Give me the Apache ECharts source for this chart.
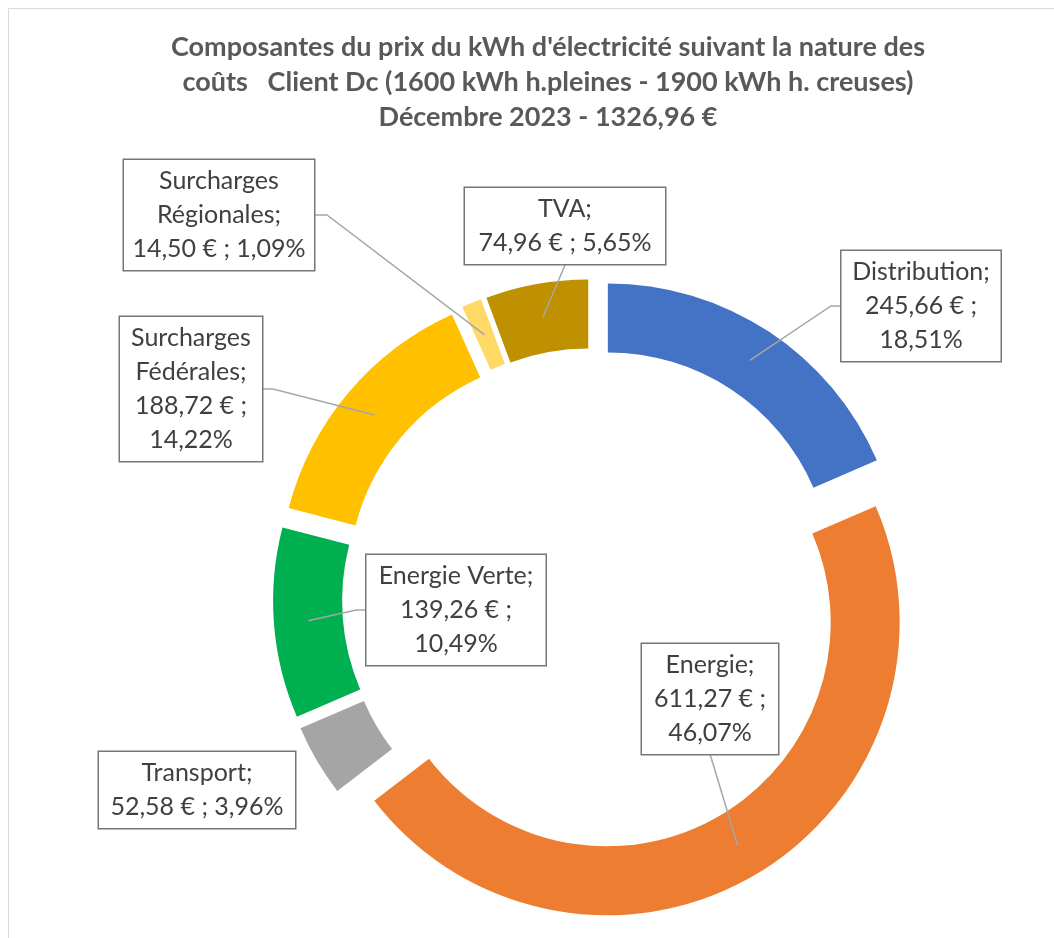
<!DOCTYPE html>
<html>
<head>
<meta charset="utf-8">
<script src="https://cdn.jsdelivr.net/npm/echarts@6/dist/echarts.min.js"></script>
<style>
  html, body { margin: 0; padding: 0; background: #fff; }
  #chart { width: 1054px; height: 938px; }
</style>
</head>
<body>
<div id="chart"></div>
<script>
// données (décembre 2023)
const categories = ['Distribution', 'Energie', 'Transport', 'Energie Verte',
  'Surcharges Fédérales', 'Surcharges Régionales', 'TVA'];
const values = [245.66, 611.27, 52.58, 139.26, 188.72, 14.50, 74.96];
const colors = ['#4472C4', '#ED7D31', '#A5A5A5', '#00B050', '#FFC000', '#FFD966', '#BF9000'];
const titleLines = [
  "Composantes du prix du kWh d'électricité suivant la nature des",
  'coûts   Client Dc (1600 kWh h.pleines - 1900 kWh h. creuses)',
  'Décembre 2023 - 1326,96 €'
];

// géométrie de l'anneau
const CX = 593, CY = 599, R_IN = 224, R_OUT = 293, EXPLODE = 27;

// position des étiquettes (centre de la boîte, largeur, retours à la ligne, ligne de rappel)
const labelBoxes = [
  { x: 921, y: 306, w: 159, nameBreak: false, valueBreak: true,  line: [[831, 306], [842, 306]] },
  { x: 710, y: 699, w: 136, nameBreak: false, valueBreak: true,  line: [[710, 754], [710, 754]] },
  { x: 197, y: 790, w: 196, nameBreak: false, valueBreak: false, line: null },
  { x: 456, y: 610, w: 179, nameBreak: false, valueBreak: true,  line: [[356, 610], [367, 610]] },
  { x: 191, y: 389, w: 142, nameBreak: true,  valueBreak: true,  line: [[273, 389], [262, 389]] },
  { x: 219, y: 215, w: 190, nameBreak: true,  valueBreak: false, line: [[327, 215], [315, 215]] },
  { x: 565, y: 226, w: 200, nameBreak: false, valueBreak: false, line: [[565, 265], [565, 265]] }
];

const total = values.reduce((a, b) => a + b, 0);
const fmt = v => v.toFixed(2).replace('.', ',');

// angle médian de chaque part (radians, 0 = haut, sens horaire)
const midAngles = [];
let acc = 0;
values.forEach(v => {
  midAngles.push((acc + v / 2) / total * Math.PI * 2);
  acc += v;
});

const chart = echarts.init(document.getElementById('chart'));

chart.setOption({
  animation: false,
  textStyle: { fontFamily: 'Lato' },
  title: {
    text: titleLines.join('\n'),
    left: 548,
    top: 30,
    padding: 0,
    textAlign: 'center',
    textStyle: {
      fontFamily: 'Lato',
      fontSize: 27,
      fontWeight: 'bold',
      color: '#595959',
      lineHeight: 35
    }
  },
  graphic: [{
    type: 'rect',
    shape: { x: 8.5, y: 8.5, width: 1100, height: 1000 },
    style: { fill: 'none', stroke: '#D9D9D9', lineWidth: 1 },
    silent: true
  }],
  series: [
    {
      // parts éclatées
      type: 'pie',
      center: [CX, CY],
      radius: [R_IN, R_OUT],
      startAngle: 90,
      clockwise: true,
      selectedMode: 'multiple',
      selectedOffset: EXPLODE,
      avoidLabelOverlap: false,
      label: { show: false },
      labelLine: { show: false },
      emphasis: { disabled: true },
      select: { itemStyle: { borderWidth: 0 } },
      data: categories.map((name, i) => ({
        name: name,
        value: values[i],
        selected: true,
        itemStyle: { color: colors[i] },
        select: { itemStyle: { color: colors[i] } }
      }))
    },
    {
      // étiquettes
      type: 'pie',
      center: [CX, CY],
      radius: [R_IN, R_OUT],
      startAngle: 90,
      clockwise: true,
      silent: true,
      z: 5,
      avoidLabelOverlap: false,
      itemStyle: { color: 'rgba(0,0,0,0)' },
      emphasis: { disabled: true },
      label: {
        show: true,
        position: 'outside',
        fontFamily: 'Lato',
        fontSize: 25,
        lineHeight: 34,
        color: '#404040',
        backgroundColor: '#fff',
        borderColor: '#767676',
        borderWidth: 1.5,
        padding: [4, 0],
        align: 'center',
        formatter: p => {
          const box = labelBoxes[p.dataIndex];
          const name = box.nameBreak ? p.name.replace(' ', '\n') : p.name;
          const pct = fmt(p.value / total * 100);
          return name + ';\n' + fmt(p.value) + ' € ;' + (box.valueBreak ? '\n' : ' ') + pct + '%';
        }
      },
      labelLine: {
        show: true,
        lineStyle: { color: '#A6A6A6', width: 1.5 }
      },
      labelLayout: params => {
        const i = params.dataIndex;
        const box = labelBoxes[i];
        const a = midAngles[i];
        const rMid = EXPLODE + (R_IN + R_OUT) / 2;
        const start = [CX + rMid * Math.sin(a), CY - rMid * Math.cos(a)];
        const out = {
          x: box.x,
          y: box.y,
          align: 'center',
          verticalAlign: 'middle',
          width: box.w
        };
        if (box.line) {
          out.labelLinePoints = [start, box.line[0], box.line[1]];
        }
        return out;
      },
      data: categories.map((name, i) => ({
        name: name,
        value: values[i],
        label: { width: labelBoxes[i].w },
        labelLine: { show: labelBoxes[i].line !== null }
      }))
    }
  ]
});
</script>
</body>
</html>
